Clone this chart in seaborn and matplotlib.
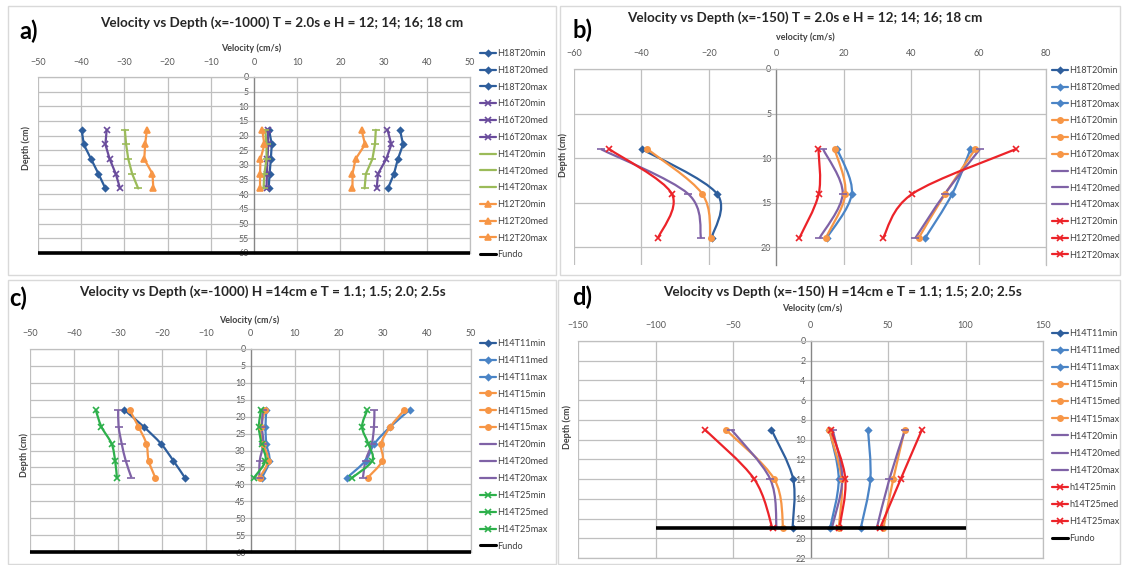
import numpy as np
import matplotlib
matplotlib.use('Agg')
import matplotlib.pyplot as plt
import seaborn as sns
from matplotlib.path import Path
from matplotlib.patches import PathPatch, Rectangle
from matplotlib.lines import Line2D

# ---------------- data ----------------
# a) x=-1000, T = 2.0s, H = 12..18 cm
a_depth = [18, 23, 28, 33, 38]
a_names = ['H18T20min', 'H18T20med', 'H18T20max',
           'H16T20min', 'H16T20med', 'H16T20max',
           'H14T20min', 'H14T20med', 'H14T20max',
           'H12T20min', 'H12T20med', 'H12T20max']
a_values = [[-39.9, -39.4, -37.7, -36.0, -34.4],
            [3.5, 4.1, 3.9, 3.6, 3.4],
            [33.8, 34.5, 33.3, 32.4, 31.0],
            [-34.1, -34.4, -33.4, -32.0, -31.0],
            [3.2, 3.3, 3.1, 3.0, 2.9],
            [30.9, 31.8, 30.6, 28.7, 28.4],
            [-29.9, -29.6, -29.1, -28.2, -26.8],
            [2.6, 2.9, 2.9, 2.4, 2.2],
            [28.2, 28.0, 27.4, 25.9, 25.6],
            [-24.8, -25.2, -25.4, -23.5, -23.3],
            [1.9, 2.4, 1.5, 1.4, 1.4],
            [24.9, 25.7, 23.5, 22.8, 22.8]]
a_fundo_x = [-50, 50]
a_fundo_y = [60, 60]

# b) x=-150, T = 2.0s, H = 12..18 cm
b_depth = [9, 14, 19]
b_names = a_names
b_values = [[-39.8, -17.6, -19.2],
            [18.1, 22.4, 14.9],
            [57.6, 52.2, 44.1],
            [-38.2, -22.0, -19.5],
            [17.3, 20.5, 14.6],
            [59.0, 50.1, 42.2],
            [-52.0, -26.2, -22.3],
            [13.9, 19.7, 12.8],
            [60.4, 50.0, 41.2],
            [-49.5, -31.0, -35.1],
            [12.5, 12.6, 6.8],
            [71.0, 40.4, 31.6]]

# c) x=-1000, H = 14cm, T = 1.1..2.5 s
c_depth = [18, 23, 28, 33, 38]
c_names = ['H14T11min', 'H14T11med', 'H14T11max',
           'H14T15min', 'H14T15med', 'H14T15max',
           'H14T20min', 'H14T20med', 'H14T20max',
           'H14T25min', 'H14T25med', 'H14T25max']
c_values = [[-28.6, -24.2, -20.3, -17.5, -14.9],
            [3.6, 3.4, 3.6, 4.3, 2.6],
            [36.1, 31.7, 28.1, 26.1, 21.9],
            [-27.4, -25.4, -23.6, -23.1, -21.6],
            [3.3, 2.4, 2.9, 4.0, 2.1],
            [34.9, 31.7, 29.6, 29.9, 26.6],
            [-30.0, -29.9, -29.2, -28.3, -27.0],
            [2.8, 2.6, 2.9, 2.1, 2.0],
            [28.1, 28.0, 27.5, 26.1, 25.5],
            [-35.1, -33.8, -31.5, -30.7, -30.3],
            [2.4, 1.9, 2.5, 3.4, 0.8],
            [26.5, 25.3, 26.7, 27.6, 23.1]]
c_fundo_x = [-50, 50]
c_fundo_y = [60, 60]

# d) x=-150, H = 14cm, T = 1.1..2.5 s
d_depth = [9, 14, 19]
d_names = ['H14T11min', 'H14T11med', 'H14T11max',
           'H14T15min', 'H14T15med', 'H14T15max',
           'H14T20min', 'H14T20med', 'H14T20max',
           'h14T25min', 'h14T25med', 'H14T25max']
d_values = [[-25.2, -11.2, -11.6],
            [12.2, 18.2, 12.6],
            [37.1, 38.6, 32.4],
            [-54.6, -23.4, -17.6],
            [11.9, 20.1, 18.2],
            [60.8, 53.4, 47.0],
            [-51.0, -26.0, -21.9],
            [14.3, 20.5, 13.7],
            [61.0, 50.9, 42.7],
            [-68.0, -36.3, -24.5],
            [13.2, 22.5, 18.6],
            [71.9, 58.2, 44.8]]
d_fundo_x = [-100, 100]
d_fundo_y = [19, 19]

# ---------------- styles ----------------
DBLUE = '#2E5E9C'
BLUE = '#4A84C6'
ORANGE = '#F79646'
PURPLE = '#7F62A6'
APURPLE = '#6A4C9C'
AGREEN = '#9BBB59'
RED = '#EC2329'
GREEN = '#2DB04B'
GRID = '#BFBFBF'
TXT = '#595959'

a_colors = [DBLUE] * 3 + [APURPLE] * 3 + [AGREEN] * 3 + [ORANGE] * 3
a_markers = ['D'] * 3 + ['x'] * 3 + ['_'] * 3 + ['^'] * 3
b_colors = [DBLUE, BLUE, BLUE] + [ORANGE] * 3 + [PURPLE] * 3 + [RED] * 3
b_markers = ['D'] * 3 + ['o'] * 3 + ['_'] * 3 + ['x'] * 3
c_colors = [DBLUE, BLUE, BLUE] + [ORANGE] * 3 + [PURPLE] * 3 + [GREEN] * 3
c_markers = b_markers
d_colors = b_colors
d_markers = b_markers

sns.set_style('white')
plt.rcParams['font.family'] = ['Lato', 'DejaVu Sans']

W, H = 1122, 565
fig = plt.figure(figsize=(W / 100, H / 100), dpi=100)


def fbox(left, top, right, bottom):
    # pixel box -> figure fraction rect
    return [left / W, 1 - bottom / H, (right - left) / W, (bottom - top) / H]


def smooth_path(x, y):
    # excel style smoothed line (bezier through the points)
    pts = np.column_stack([x, y]).astype(float)
    verts = [pts[0]]
    codes = [Path.MOVETO]
    n = len(pts)
    for i in range(n - 1):
        p0 = pts[i - 1] if i > 0 else pts[i]
        p1, p2 = pts[i], pts[i + 1]
        p3 = pts[i + 2] if i + 2 < n else pts[i + 1]
        verts += [p1 + (p2 - p0) / 6, p2 - (p3 - p1) / 6, p2]
        codes += [Path.CURVE4] * 3
    return Path(verts, codes)


def marker_size(mk):
    return {'D': 3, 'o': 3.8, '^': 3.8, 'x': 4.5, '_': 5.5}[mk]


def draw_series(ax, depth, names, values, colors, markers, smooth):
    handles = []
    for name, vals, col, mk in zip(names, values, colors, markers):
        ms = marker_size(mk)
        if smooth:
            ax.add_patch(PathPatch(smooth_path(vals, depth), fill=False,
                                   edgecolor=col, lw=1.6, zorder=3))
            sns.lineplot(x=vals, y=depth, ax=ax, sort=False, estimator=None,
                         color=col, marker=mk, markersize=ms, mec=col, mew=1.2,
                         linestyle='', zorder=4, legend=False)
        else:
            sns.lineplot(x=vals, y=depth, ax=ax, sort=False, estimator=None,
                         color=col, marker=mk, markersize=ms, mec=col, mew=1.2,
                         lw=1.6, zorder=3, legend=False)
        handles.append(Line2D([], [], color=col, marker=mk, lw=1.6,
                              markersize=ms, mec=col, mew=1.2, label=name))
    return handles


def style_axes(ax, xlim, xticks, ylim, yticks, vgrid, pad, bottom_spine=True):
    ax.set_xlim(xlim)
    ax.set_ylim(ylim)
    ax.set_xticks(xticks)
    ax.set_yticks(yticks)
    ax.xaxis.tick_top()
    ax.tick_params(axis='x', length=0, pad=pad, labelsize=6.5, labelcolor=TXT)
    ax.tick_params(axis='y', length=3, direction='inout', width=0.8,
                   color='#868686', pad=2, labelsize=6.5, labelcolor=TXT)
    for y in yticks:
        ax.axhline(y, color=GRID, lw=0.9, zorder=1)
    for x in vgrid:
        ax.axvline(x, color=GRID, lw=0.9, zorder=1)
    ax.spines['left'].set_position(('data', 0))
    ax.spines['left'].set_color('#868686')
    ax.spines['left'].set_linewidth(1.0)
    for s in ('top', 'right', 'bottom'):
        ax.spines[s].set_color(GRID)
        ax.spines[s].set_linewidth(0.9)
    ax.spines['bottom'].set_visible(bottom_spine)
    ax.set_xlabel('')
    ax.set_ylabel('')


def add_legend(ax, handles, x, y, spacing):
    ax.legend(handles=handles, loc='upper left', bbox_to_anchor=(x / W, 1 - y / H),
              bbox_transform=fig.transFigure, frameon=False, fontsize=6.6,
              handlelength=1.7, handletextpad=0.2, borderpad=0,
              borderaxespad=0, labelspacing=spacing, labelcolor='#404040')


def add_fundo(ax, fx, fy, clip):
    sns.lineplot(x=fx, y=fy, ax=ax, color='black', lw=2.6, zorder=5,
                 clip_on=clip, solid_capstyle='butt')


# panel frames
for (l, t, r, b) in [(8, 6, 556, 275), (560, 6, 1120, 275),
                     (8, 280, 556, 564), (558, 280, 1120, 564)]:
    fig.add_artist(Rectangle((l / W, 1 - b / H), (r - l) / W, (b - t) / H,
                             transform=fig.transFigure, fill=False,
                             edgecolor='#D9D9D9', lw=1.0))

fundo_handle = Line2D([], [], color='black', lw=2.2, label='Fundo')

# ---------- a) ----------
ax_a = fig.add_axes(fbox(38, 77, 470, 253))
h = draw_series(ax_a, a_depth, a_names, a_values, a_colors, a_markers, smooth=False)
add_fundo(ax_a, a_fundo_x, a_fundo_y, clip=False)
style_axes(ax_a, (-50, 50), range(-50, 51, 10), (60, 0), range(0, 61, 5),
           [-50, -40, -30, -20, -10, 10, 20, 30, 40, 50], pad=7)
add_legend(ax_a, h + [fundo_handle], 480, 49, 0.85)

# ---------- b) ----------
ax_b = fig.add_axes(fbox(574, 69, 1046, 265))
h = draw_series(ax_b, b_depth, b_names, b_values, b_colors, b_markers, smooth=True)
style_axes(ax_b, (-60, 80), range(-60, 81, 20), (22, 0), range(0, 21, 5),
           [-60, -40, -20, 20, 40, 60, 80], pad=8, bottom_spine=False)
add_legend(ax_b, h, 1052, 66, 0.85)

# ---------- c) ----------
ax_c = fig.add_axes(fbox(30, 349, 471, 552))
h = draw_series(ax_c, c_depth, c_names, c_values, c_colors, c_markers, smooth=True)
add_fundo(ax_c, c_fundo_x, c_fundo_y, clip=False)
style_axes(ax_c, (-50, 50), range(-50, 51, 10), (60, 0), range(0, 61, 5),
           [-50, -40, -30, -20, -10, 10, 20, 30, 40, 50], pad=8)
add_legend(ax_c, h + [fundo_handle], 480, 339, 0.86)

# ---------- d) ----------
ax_d = fig.add_axes(fbox(578, 341, 1043, 558))
h = draw_series(ax_d, d_depth, d_names, d_values, d_colors, d_markers, smooth=True)
add_fundo(ax_d, d_fundo_x, d_fundo_y, clip=True)
style_axes(ax_d, (-150, 150), range(-150, 151, 50), (22, 0), range(0, 23, 2),
           [-150, -100, -50, 50, 100, 150], pad=8)
add_legend(ax_d, h + [fundo_handle], 1052, 329, 0.885)

# ---------- titles / labels ----------
title_kw = dict(fontsize=9.7, fontweight='bold', color='#262626', ha='center', va='center')
fig.text(282 / W, 1 - 23 / H, 'Velocity vs Depth (x=-1000) T = 2.0s e H = 12; 14; 16; 18 cm', **title_kw)
fig.text(805 / W, 1 - 18 / H, 'Velocity vs Depth (x=-150) T = 2.0s e H = 12; 14; 16; 18 cm', **title_kw)
fig.text(262 / W, 1 - 292 / H, 'Velocity vs Depth (x=-1000) H =14cm e T = 1.1; 1.5; 2.0; 2.5s', **title_kw)
fig.text(842 / W, 1 - 292 / H, 'Velocity vs Depth (x=-150) H =14cm e T = 1.1; 1.5; 2.0; 2.5s', **title_kw)

letter_kw = dict(fontsize=17, fontweight='bold', color='black', ha='left', va='center')
fig.text(19 / W, 1 - 31 / H, 'a)', **letter_kw)
fig.text(572 / W, 1 - 30 / H, 'b)', **letter_kw)
fig.text(9 / W, 1 - 298 / H, 'c)', **letter_kw)
fig.text(572 / W, 1 - 297 / H, 'd)', **letter_kw)

lab_kw = dict(fontsize=6.5, fontweight='bold', color='#404040', ha='center', va='center')
fig.text(251 / W, 1 - 48 / H, 'Velocity (cm/s)', **lab_kw)
fig.text(805 / W, 1 - 37 / H, 'velocity (cm/s)', **lab_kw)
fig.text(249 / W, 1 - 320 / H, 'Velocity (cm/s)', **lab_kw)
fig.text(812 / W, 1 - 308 / H, 'Velocity (cm/s)', **lab_kw)
fig.text(26 / W, 1 - 148 / H, 'Depth (cm)', rotation=90, **lab_kw)
fig.text(563 / W, 1 - 155 / H, 'Depth (cm)', rotation=90, **lab_kw)
fig.text(24 / W, 1 - 455 / H, 'Depth (cm)', rotation=90, **lab_kw)
fig.text(567 / W, 1 - 427 / H, 'Depth (cm)', rotation=90, **lab_kw)

fig.savefig('out.png', dpi=100)
